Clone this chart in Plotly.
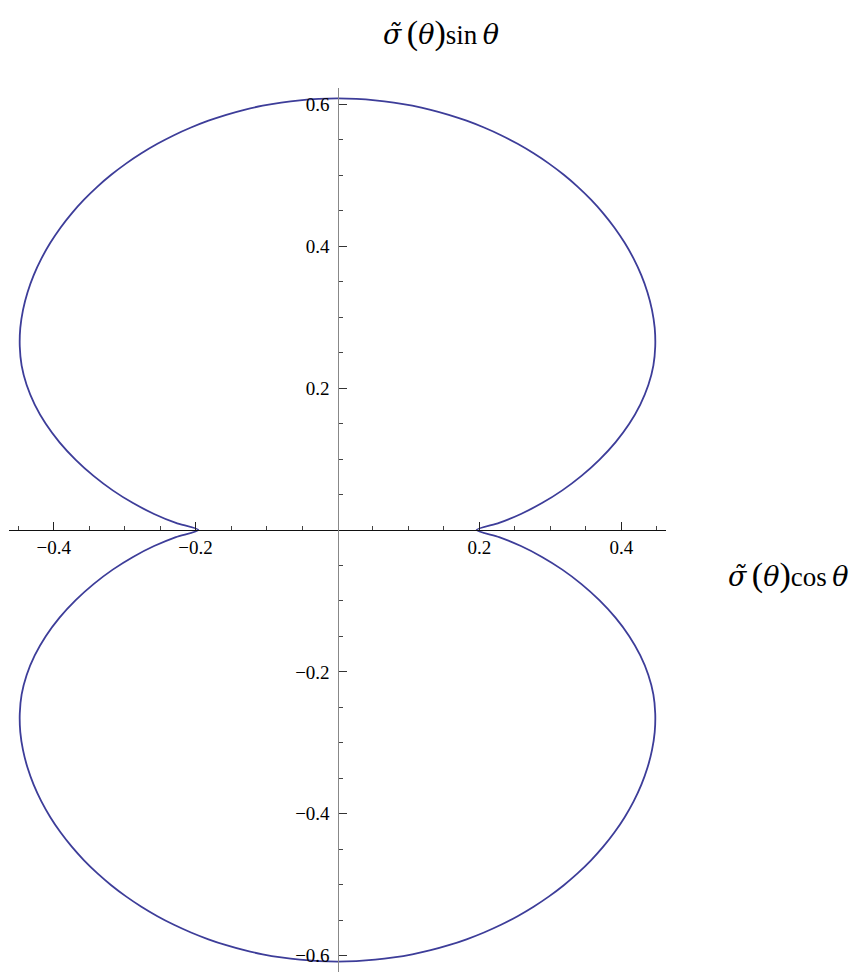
import numpy as np
import plotly.graph_objects as go

# sigma~(theta) over the first quadrant, every 2.5 degrees; the curve is symmetric about both axes
theta_deg = [0, 2.5, 5, 7.5, 10, 12.5, 15, 17.5, 20, 22.5, 25, 27.5, 30, 32.5, 35, 37.5,
             40, 42.5, 45, 47.5, 50, 52.5, 55, 57.5, 60, 62.5, 65, 67.5, 70, 72.5, 75,
             77.5, 80, 82.5, 85, 87.5, 90]
sigma = [0.1960, 0.2280, 0.2595, 0.2907, 0.3217, 0.3522, 0.3820, 0.4108, 0.4376, 0.4619,
         0.4834, 0.5019, 0.5171, 0.5301, 0.5411, 0.5506, 0.5589, 0.5661, 0.5724, 0.5779,
         0.5827, 0.5869, 0.5905, 0.5936, 0.5963, 0.5986, 0.6006, 0.6023, 0.6037, 0.6049,
         0.6059, 0.6067, 0.6073, 0.6077, 0.6080, 0.6082, 0.6083]

x_major = [-0.4, -0.2, 0.2, 0.4]
x_labels = ["\u22120.4", "\u22120.2", "0.2", "0.4"]
y_major = [-0.6, -0.4, -0.2, 0.2, 0.4, 0.6]
y_labels = ["\u22120.6", "\u22120.4", "\u22120.2", "0.2", "0.4", "0.6"]
minor_steps = [k * 0.05 for k in range(-12, 13)]

# Full turn 0..360 deg from the quadrant values: r(180-t) = r(t), r(-t) = r(t)
q_t = np.array(theta_deg, dtype=float)
q_r = np.array(sigma, dtype=float)
full_t = np.concatenate([q_t, 180 - q_t[::-1][1:], 180 + q_t[1:], 360 - q_t[::-1][1:]])
full_r = np.concatenate([q_r, q_r[::-1][1:], q_r[1:], q_r[::-1][1:]])
rad = np.deg2rad(full_t)
xs = full_r * np.cos(rad)
ys = full_r * np.sin(rad)

fig = go.Figure(go.Scatter(
    x=xs, y=ys, mode="lines",
    line=dict(color="#3d3d99", width=1.8, shape="spline", smoothing=0.7),
    hoverinfo="skip", showlegend=False,
))

serif = "Liberation Serif, Times New Roman, serif"
x_minor = [round(v, 2) for v in minor_steps
           if abs(v) <= 0.46 and all(abs(v - m) > 1e-9 for m in x_major) and abs(v) > 1e-9]
y_minor = [round(v, 2) for v in minor_steps
           if abs(v) <= 0.62 and all(abs(v - m) > 1e-9 for m in y_major) and abs(v) > 1e-9]

# Plot area in pixels: x 9..666, y 88..972
L, R, T, B = 9, 666, 88, 972
def px(xp):
    return (xp - L) / (R - L)
def py(yp):
    return 1 - (yp - T) / (B - T)

greek = "<span style=\"font-family:'DejaVu Serif';font-size:27px\"><i>%s</i></span>"
paren = '<span style="font-size:34px">%s</span>'

def axis_title(func, x_left, y_mid):
    body = (greek % "\u03c3\u0303" + "\u2009" + paren % "(" + greek % "\u03b8" + paren % ")"
            + func + "\u2009" + greek % "\u03b8")
    return dict(text=body, xref="paper", yref="paper", x=px(x_left), y=py(y_mid),
                xanchor="left", yanchor="middle", showarrow=False,
                font=dict(family=serif, size=27, color="black"))

fig.update_layout(
    width=863, height=976,
    margin=dict(l=L, r=863 - R, t=T, b=976 - B),
    plot_bgcolor="white", paper_bgcolor="white",
    font=dict(family=serif, size=19, color="black"),
    xaxis=dict(
        range=[-0.463, 0.463], anchor="free", position=0.5, side="bottom",
        showgrid=False, zeroline=False, showline=True, linecolor="#111", linewidth=1.2,
        tickmode="array", tickvals=x_major, ticktext=x_labels,
        ticks="inside", ticklen=8, tickwidth=1, tickcolor="#222",
        tickfont=dict(family=serif, size=19, color="black"),
        minor=dict(tickmode="array", tickvals=x_minor, ticks="inside",
                   ticklen=4, tickwidth=1, tickcolor="#444", showgrid=False),
    ),
    yaxis=dict(
        range=[-0.623, 0.623], anchor="free", position=0.5, side="left",
        showgrid=False, zeroline=False, showline=True, linecolor="#888", linewidth=1.2,
        tickmode="array", tickvals=y_major, ticktext=y_labels,
        ticks="inside", ticklen=8, tickwidth=1, tickcolor="#333",
        ticklabelstandoff=4,
        tickfont=dict(family=serif, size=19, color="black"),
        minor=dict(tickmode="array", tickvals=y_minor, ticks="inside",
                   ticklen=4, tickwidth=1, tickcolor="#444", showgrid=False),
    ),
    annotations=[axis_title("sin", 381, 33), axis_title("cos", 726, 575)],
)

fig.write_html("out.html")
